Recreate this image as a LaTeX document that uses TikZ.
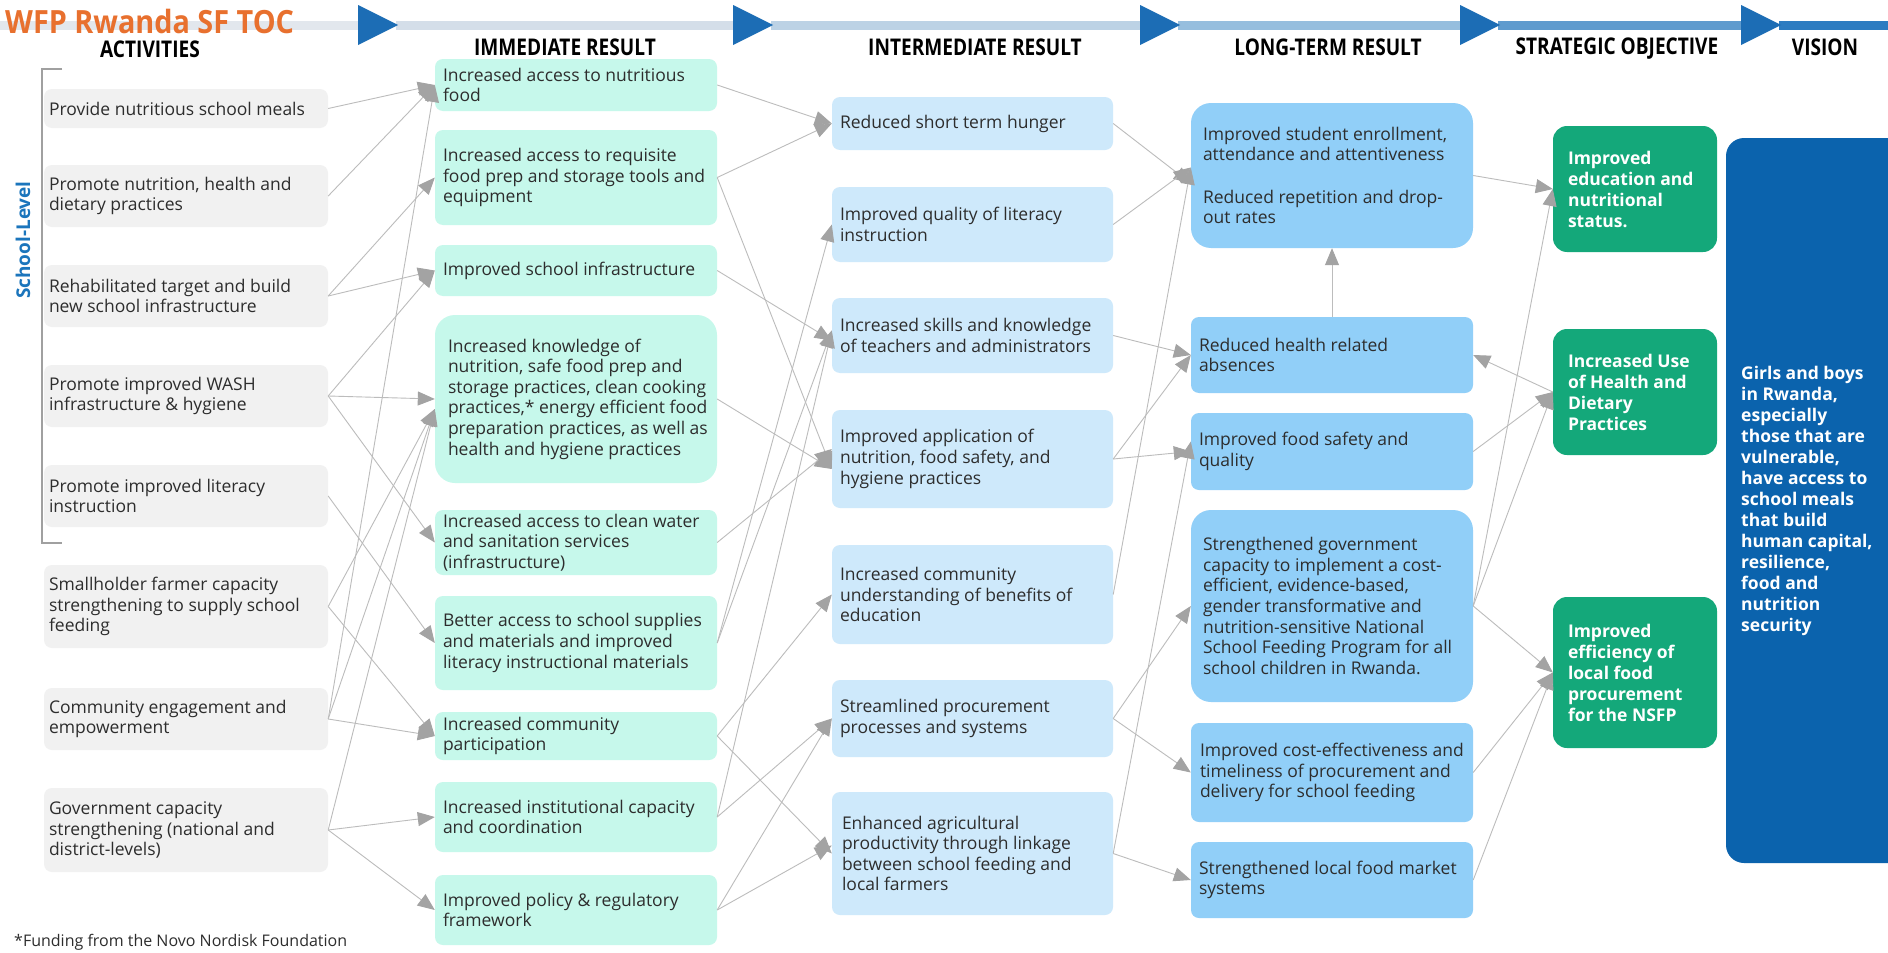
\documentclass[tikz,border=0pt]{standalone}
\usepackage{fontspec}
\setmainfont{Open Sans}
\newfontfamily\condfont[FakeStretch=0.83]{Open Sans}
\newfontfamily\titlefont[FakeStretch=0.9]{Open Sans}
\usetikzlibrary{arrows.meta,calc}
\definecolor{actgray}{RGB}{241,241,241}
\definecolor{irmint}{RGB}{198,248,235}
\definecolor{imblue}{RGB}{206,233,251}
\definecolor{ltblue}{RGB}{145,207,248}
\definecolor{sogreen}{RGB}{20,168,122}
\definecolor{visblue}{RGB}{11,99,173}
\definecolor{txtdark}{RGB}{45,45,45}
\definecolor{linegray}{RGB}{188,188,188}
\definecolor{tipgray}{RGB}{163,163,163}
\definecolor{hdrblue}{RGB}{28,109,181}
\definecolor{titleorange}{RGB}{232,112,46}
\definecolor{schoolblue}{RGB}{27,117,188}
\definecolor{bracketgray}{RGB}{160,160,160}
\definecolor{segA}{RGB}{226,231,237}
\definecolor{segB}{RGB}{212,222,233}
\definecolor{segC}{RGB}{188,210,229}
\definecolor{segD}{RGB}{150,190,222}
\definecolor{segE}{RGB}{95,155,206}
\definecolor{segF}{RGB}{45,124,193}
\tikzset{
  boxbase/.style={draw=none, rounded corners=8pt, inner sep=0pt},
  actbox/.style={boxbase, fill=actgray},
  irbox/.style={boxbase, fill=irmint},
  imbox/.style={boxbase, fill=imblue},
  ltbox/.style={boxbase, fill=ltblue},
  sobox/.style={boxbase, fill=sogreen, rounded corners=14pt},
  biground/.style={rounded corners=20pt},
  bodytxt/.style={anchor=west, align=left, inner sep=0pt, text=txtdark, font=\fontsize{17.5}{20.6}\selectfont},
  whitetxt/.style={anchor=west, align=left, inner sep=0pt, text=white, font=\fontsize{17.5}{21}\selectfont\bfseries},
  conn/.style={draw=linegray, line width=0.9pt, -{Triangle[length=17pt,width=14pt,color=tipgray]}},
  hdr/.style={font=\condfont\bfseries\fontsize{23}{24}\selectfont, text=black, inner sep=0pt},
}
\newcommand\tocbox[9]{%
  \node[#2, minimum width={#6-#4}, minimum height={#7-#5}] (#1) at ({(#4+#6)/2},{(#5+#7)/2}) {};
  \node[#3] (#1t) at ([xshift=#8]#1.west) {#9};}
\begin{document}
\begin{tikzpicture}[x=1pt,y=-1pt]
\useasboundingbox (0,0) rectangle (1888,953);
\fill[white] (0,0) rectangle (1888,953);
% header bar
\fill[segA] (0,21) rectangle (360,30);
\fill[segB] (396,21) rectangle (735,30);
\fill[segC] (771,21) rectangle (1142,30);
\fill[segD] (1178,21) rectangle (1462,30);
\fill[segE] (1498,21) rectangle (1743,30);
\fill[segF] (1779,21) rectangle (1888,30);
\foreach \tx in {358,733,1140,1460,1741} \fill[hdrblue] (\tx,5) -- ({\tx+40},25) -- (\tx,45) -- cycle;
\node[anchor=west, inner sep=0pt, font=\titlefont\bfseries\fontsize{32}{34}\selectfont, text=titleorange] (title) at (5,22) {WFP Rwanda SF TOC};
\node[hdr] (h1) at (150,49) {ACTIVITIES};
\node[hdr] (h2) at (565,47) {IMMEDIATE RESULT};
\node[hdr] (h3) at (975,47) {INTERMEDIATE RESULT};
\node[hdr] (h4) at (1328,47) {LONG-TERM RESULT};
\node[hdr] (h5) at (1617,49) {STRATEGIC OBJECTIVE};
\node[hdr] (h6) at (1825,47) {VISION};
% school-level bracket
\draw[bracketgray, line width=1.4pt] (62,69) -- (42,69) -- (42,543) -- (62,543);
\node[rotate=90, inner sep=0pt, text=schoolblue, font=\fontsize{19}{21}\selectfont\bfseries] (school) at (23,240) {School-Level};
% activities
\tocbox{a1}{actbox}{bodytxt}{44}{89}{328}{128}{5}{Provide nutritious school meals}
\tocbox{a2}{actbox}{bodytxt}{44}{165}{328}{227}{5}{Promote nutrition, health and\\dietary practices}
\tocbox{a3}{actbox}{bodytxt}{44}{265}{328}{327}{5}{Rehabilitated target and build\\new school infrastructure}
\tocbox{a4}{actbox}{bodytxt}{44}{365}{328}{427}{5}{Promote improved WASH\\infrastructure \& hygiene}
\tocbox{a5}{actbox}{bodytxt}{44}{465}{328}{527}{5}{Promote improved literacy\\instruction}
\tocbox{a6}{actbox}{bodytxt}{44}{565}{328}{648}{5}{Smallholder farmer capacity\\strengthening to supply school\\feeding}
\tocbox{a7}{actbox}{bodytxt}{44}{688}{328}{750}{5}{Community engagement and\\empowerment}
\tocbox{a8}{actbox}{bodytxt}{44}{788}{328}{872}{5}{Government capacity\\strengthening (national and\\district-levels)}
% immediate results
\tocbox{r1}{irbox}{bodytxt}{435}{59}{717}{111}{8}{Increased access to nutritious\\food}
\tocbox{r2}{irbox}{bodytxt}{435}{130}{717}{225}{8}{Increased access to requisite\\food prep and storage tools and\\equipment}
\tocbox{r3}{irbox}{bodytxt}{435}{245}{717}{296}{8}{Improved school infrastructure}
\tocbox{r4}{irbox,biground}{bodytxt}{435}{315}{717}{483}{13}{Increased knowledge of\\nutrition, safe food prep and\\storage practices, clean cooking\\practices,* energy efficient food\\preparation practices, as well as\\health and hygiene practices}
\tocbox{r5}{irbox}{bodytxt}{435}{510}{717}{575}{8}{Increased access to clean water\\and sanitation services\\(infrastructure)}
\tocbox{r6}{irbox}{bodytxt}{435}{596}{717}{690}{8}{Better access to school supplies\\and materials and improved\\literacy instructional materials}
\tocbox{r7}{irbox}{bodytxt}{435}{712}{717}{760}{8}{Increased community\\participation}
\tocbox{r8}{irbox}{bodytxt}{435}{782}{717}{852}{8}{Increased institutional capacity\\and coordination}
\tocbox{r9}{irbox}{bodytxt}{435}{875}{717}{945}{8}{Improved policy \& regulatory\\framework}
% intermediate results
\tocbox{m1}{imbox}{bodytxt}{832}{97}{1113}{150}{8}{Reduced short term hunger}
\tocbox{m2}{imbox}{bodytxt}{832}{187}{1113}{262}{8}{Improved quality of literacy\\instruction}
\tocbox{m3}{imbox}{bodytxt}{832}{298}{1113}{373}{8}{Increased skills and knowledge\\of teachers and administrators}
\tocbox{m4}{imbox}{bodytxt}{832}{410}{1113}{508}{8}{Improved application of\\nutrition, food safety, and\\hygiene practices}
\tocbox{m5}{imbox}{bodytxt}{832}{545}{1113}{644}{8}{Increased community\\understanding of benefits of\\education}
\tocbox{m6}{imbox}{bodytxt}{832}{680}{1113}{757}{8}{Streamlined procurement\\processes and systems}
\tocbox{m7}{imbox}{bodytxt}{832}{792}{1113}{915}{10}{Enhanced agricultural\\productivity through linkage\\between school feeding and\\local farmers}
% long-term results
\tocbox{l1}{ltbox,biground}{bodytxt}{1191}{103}{1473}{248}{12}{Improved student enrollment,\\attendance and attentiveness\\[22pt]Reduced repetition and drop-\\out rates}
\tocbox{l2}{ltbox}{bodytxt}{1191}{317}{1473}{393}{8}{Reduced health related\\absences}
\tocbox{l3}{ltbox}{bodytxt}{1191}{413}{1473}{490}{8}{Improved food safety and\\quality}
\tocbox{l4}{ltbox,biground}{bodytxt}{1191}{510}{1473}{702}{12}{Strengthened government\\capacity to implement a cost-\\efficient, evidence-based,\\gender transformative and\\nutrition-sensitive National\\School Feeding Program for all\\school children in Rwanda.}
\tocbox{l5}{ltbox}{bodytxt}{1191}{723}{1473}{822}{9}{Improved cost-effectiveness and\\timeliness of procurement and\\delivery for school feeding}
\tocbox{l6}{ltbox}{bodytxt}{1191}{842}{1473}{918}{8}{Strengthened local food market\\systems}
% strategic objectives
\tocbox{s1}{sobox}{whitetxt}{1553}{126}{1717}{252}{15}{Improved\\education and\\nutritional\\status.}
\tocbox{s2}{sobox}{whitetxt}{1553}{329}{1717}{455}{15}{Increased Use\\of Health and\\Dietary\\Practices}
\tocbox{s3}{sobox}{whitetxt}{1553}{597}{1717}{748}{15}{Improved\\efficiency of\\local food\\procurement\\for the NSFP}
% vision
\begin{scope}
\clip (0,0) rectangle (1888,953);
\fill[visblue, rounded corners=18pt] (1726,138) rectangle (1910,863);
\end{scope}
\node[whitetxt] (vision) at (1741,501) {Girls and boys\\in Rwanda,\\especially\\those that are\\vulnerable,\\have access to\\school meals\\that build\\human capital,\\resilience,\\food and\\nutrition\\security};
% footnote
\node[anchor=west, inner sep=0pt, text=txtdark, font=\fontsize{16}{18}\selectfont] (fn) at (14,942) {*Funding from the Novo Nordisk Foundation};
% connectors: activities -> immediate
\draw[conn] (a1.east) -- (r1.west);
\draw[conn] (a2.east) -- (r1.west);
\draw[conn] (a7.east) -- (r1.west);
\draw[conn] (a3.east) -- (r2.west);
\draw[conn] (a3.east) -- (r3.west);
\draw[conn] (a4.east) -- (r3.west);
\draw[conn] (a4.east) -- (r4.west);
\draw[conn] (a6.east) -- ([yshift=-10]r4.west);
\draw[conn] (a7.east) -- ([yshift=-10]r4.west);
\draw[conn] (a8.east) -- ([yshift=-10]r4.west);
\draw[conn] (a4.east) -- (r5.west);
\draw[conn] (a5.east) -- (r6.west);
\draw[conn] (a6.east) -- (r7.west);
\draw[conn] (a7.east) -- (r7.west);
\draw[conn] (a8.east) -- (r8.west);
\draw[conn] (a8.east) -- (r9.west);
% immediate -> intermediate
\draw[conn] (r1.east) -- (m1.west);
\draw[conn] (r2.east) -- (m1.west);
\draw[conn] (r2.east) -- ([yshift=-10]m4.west);
\draw[conn] (r3.east) -- ([yshift=-5]m3.west);
\draw[conn] (r4.east) -- ([yshift=-10]m4.west);
\draw[conn] (r5.east) -- ([yshift=10]m4.west);
\draw[conn] (r6.east) -- (m2.west);
\draw[conn] (r6.east) -- ([yshift=5]m3.west);
\draw[conn] (r8.east) -- ([yshift=5]m3.west);
\draw[conn] (r7.east) -- (m5.west);
\draw[conn] (r7.east) -- (m7.west);
\draw[conn] (r8.east) -- (m6.west);
\draw[conn] (r9.east) -- (m6.west);
\draw[conn] (r9.east) -- ([yshift=8]m7.west);
% intermediate -> long-term
\draw[conn] (m1.east) -- ([yshift=-8]l1.west);
\draw[conn] (m2.east) -- ([yshift=8]l1.west);
\draw[conn] (m5.east) -- ([yshift=8]l1.west);
\draw[conn] (m3.east) -- (l2.west);
\draw[conn] (m4.east) -- (l2.west);
\draw[conn] (m4.east) -- (l3.west);
\draw[conn] (m7.east) -- ([yshift=10]l3.west);
\draw[conn] (m6.east) -- (l4.west);
\draw[conn] (m6.east) -- (l5.west);
\draw[conn] (m7.east) -- (l6.west);
\draw[conn] (l2.north) -- (l1.south);
% long-term -> strategic
\draw[conn] (l1.east) -- (s1.west);
\draw[conn] (l4.east) -- (s1.west);
\draw[conn] (l3.east) -- (s2.west);
\draw[conn] (l4.east) -- (s2.west);
\draw[conn] (s2.west) -- (l2.east);
\draw[conn] (l4.east) -- (s3.west);
\draw[conn] (l5.east) -- (s3.west);
\draw[conn] (l6.east) -- (s3.west);
\end{tikzpicture}
\end{document}
